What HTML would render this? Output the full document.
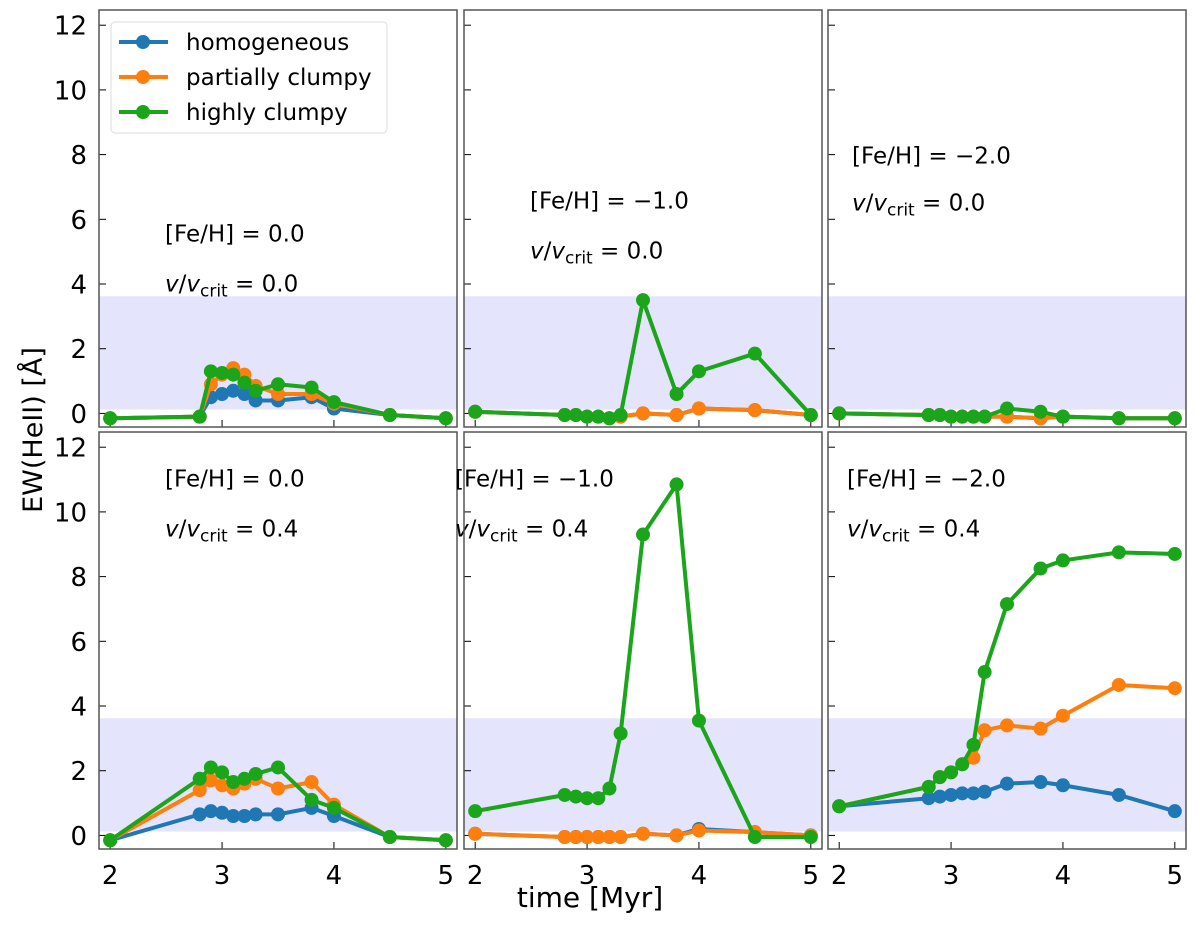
<!DOCTYPE html>
<html><head><meta charset="utf-8">
<style>
body{margin:0;background:#fff;}
svg text{font-family:"DejaVu Sans","Liberation Sans",sans-serif;fill:#000;}
</style></head>
<body>
<svg id="chart" xmlns="http://www.w3.org/2000/svg" width="1200" height="923" viewBox="0 0 1200 923">
<text x="0" y="0" font-size="27" text-anchor="middle" transform="translate(42,430) rotate(-90)">EW(HeII) [Å]</text>
<text x="590" y="907" font-size="28" text-anchor="middle">time [Myr]</text>
</svg>
<script>
const times = [2, 2.8, 2.9, 3.0, 3.1, 3.2, 3.3, 3.5, 3.8, 4.0, 4.5, 5.0];
const seriesNames = ["homogeneous", "partially clumpy", "highly clumpy"];
const xTicks = [2, 3, 4, 5];
const yTicks = [0, 2, 4, 6, 8, 10, 12];
const panelFeH = ["0.0", "\u22121.0", "\u22122.0", "0.0", "\u22121.0", "\u22122.0"];
const panelVcrit = ["0.0", "0.0", "0.0", "0.4", "0.4", "0.4"];
const p1Blue = [-0.15,-0.1,0.5,0.6,0.7,0.6,0.4,0.4,0.5,0.15,-0.05,-0.15];
const p1Orange = [-0.15,-0.1,0.9,1.2,1.4,1.2,0.85,0.6,0.6,0.3,-0.05,-0.15];
const p1Green = [-0.15,-0.1,1.3,1.25,1.2,0.95,0.7,0.9,0.8,0.35,-0.05,-0.15];
const p2Blue = [0.05,-0.05,-0.05,-0.1,-0.1,-0.15,-0.1,0.0,-0.05,0.15,0.1,-0.05];
const p2Orange = [0.05,-0.05,-0.05,-0.1,-0.1,-0.15,-0.1,0.0,-0.05,0.15,0.1,-0.05];
const p2Green = [0.05,-0.05,-0.05,-0.1,-0.1,-0.15,-0.05,3.5,0.6,1.3,1.85,-0.05];
const p3Blue = [0,-0.05,-0.05,-0.1,-0.1,-0.1,-0.1,-0.1,-0.15,-0.1,-0.15,-0.15];
const p3Orange = [0,-0.05,-0.05,-0.1,-0.1,-0.1,-0.1,-0.1,-0.15,-0.1,-0.15,-0.15];
const p3Green = [0,-0.05,-0.05,-0.1,-0.1,-0.1,-0.1,0.15,0.05,-0.1,-0.15,-0.15];
const p4Blue = [-0.15,0.65,0.75,0.7,0.6,0.6,0.65,0.65,0.85,0.6,-0.05,-0.15];
const p4Orange = [-0.15,1.4,1.7,1.55,1.45,1.6,1.75,1.45,1.65,0.95,-0.05,-0.15];
const p4Green = [-0.15,1.75,2.1,1.95,1.65,1.75,1.9,2.1,1.1,0.85,-0.05,-0.15];
const p5Blue = [0.05,-0.05,-0.05,-0.05,-0.05,-0.05,-0.05,0.05,0,0.2,0.1,0];
const p5Orange = [0.05,-0.05,-0.05,-0.05,-0.05,-0.05,-0.05,0.05,0,0.15,0.1,0];
const p5Green = [0.75,1.25,1.2,1.15,1.15,1.45,3.15,9.3,10.85,3.55,-0.05,-0.05];
const p6Blue = [0.9,1.15,1.2,1.25,1.3,1.3,1.35,1.6,1.65,1.55,1.25,0.75];
const p6Orange = [0.9,1.5,1.8,1.95,2.2,2.4,3.25,3.4,3.3,3.7,4.65,4.55];
const p6Green = [0.9,1.5,1.8,1.95,2.2,2.8,5.05,7.15,8.25,8.5,8.75,8.7];
const bandLow = 0.12, bandHigh = 3.62;

const panels = [[p1Blue,p1Orange,p1Green],[p2Blue,p2Orange,p2Green],[p3Blue,p3Orange,p3Green],
                [p4Blue,p4Orange,p4Green],[p5Blue,p5Orange,p5Green],[p6Blue,p6Orange,p6Green]];
const colors = ["#1f77b4","#ff7f0e","#1aa51a"];
const NS = "http://www.w3.org/2000/svg";
const svg = document.getElementById('chart');
const colX = [99, 464, 828], rowY = [10, 432];
const W = 358, H = 417;
const xMin = 1.90, xMax = 5.10, yMin = -0.42, yMax = 12.47;
function mk(tag, attrs, parent){const e=document.createElementNS(NS,tag);for(const k in attrs)e.setAttribute(k,attrs[k]);(parent||svg).appendChild(e);return e;}
const txtPos = [[165,233,283],[530,200,250],[852,155,202],[165,478,528],[455,478,528],[847,478,528]];

panels.forEach((ser, i) => {
  const c = i % 3, r = Math.floor(i / 3);
  const L = colX[c], T = rowY[r];
  const sx = v => L + (v - xMin) / (xMax - xMin) * W;
  const sy = v => T + H - (v - yMin) / (yMax - yMin) * H;
  const g = mk('g', {});
  
  
  const band = mk('rect', {x: L, y: sy(bandHigh), width: W, height: sy(bandLow) - sy(bandHigh), fill: '#e4e4fc'}, g);
  
  
  yTicks.forEach(t => {
    mk('line', {x1: L, x2: L + 7, y1: sy(t), y2: sy(t), stroke: '#000', 'stroke-width': 1}, g);
    if (c === 0) {
      const tl = mk('text', {x: L - 12, y: sy(t) + 9.5, 'font-size': 26, 'text-anchor': 'end'}, g);
      
      
      tl.textContent = t;
    }
  });
  xTicks.forEach(t => {
    mk('line', {x1: sx(t), x2: sx(t), y1: T + H, y2: T + H - 7, stroke: '#000', 'stroke-width': 1}, g);
    if (r === 1) {
      const tl = mk('text', {x: sx(t), y: T + H + 35, 'font-size': 26, 'text-anchor': 'middle'}, g);
      
      
      tl.textContent = t;
    }
  });
  ser.forEach((vals, s) => {
    const pts = vals.map((v, k) => sx(times[k]) + ',' + sy(v)).join(' ');
    const pl = mk('polyline', {points: pts, fill: 'none', stroke: colors[s], 'stroke-width': 4, 'stroke-linejoin': 'round'}, g);
    
    
    vals.forEach((v, k) => {
      const cc = mk('circle', {cx: sx(times[k]), cy: sy(v), r: 7, fill: colors[s]}, g);
      
      
    });
  });
  const tp = txtPos[i];
  const t1 = mk('text', {x: tp[0], y: tp[1] + 8.5, 'font-size': 23}, g);
  
  
  t1.textContent = '[Fe/H] = ' + panelFeH[i];
  const t2 = mk('text', {x: tp[0], y: tp[2] + 8.5, 'font-size': 23}, g);
  
  
  t2.innerHTML = '<tspan font-style="italic">v</tspan>/<tspan font-style="italic">v</tspan><tspan font-size="17" dy="5">crit</tspan><tspan dy="-5"> = ' + panelVcrit[i] + '</tspan>';
  const fr = mk('rect', {x: L, y: T, width: W, height: H, fill: 'none', stroke: '#555', 'stroke-width': 1.5}, g);
  
  
});

const lg = mk('g', {});


mk('rect', {x: 111, y: 22, width: 276, height: 111, rx: 4, fill: '#fff', 'fill-opacity': 0.9, stroke: '#ddd', 'stroke-width': 1}, lg);
seriesNames.forEach((n, s) => {
  const y = 42 + s * 35;
  const e = mk('g', {}, lg);
  
  
  mk('line', {x1: 119, x2: 168, y1: y, y2: y, stroke: colors[s], 'stroke-width': 4}, e);
  mk('circle', {cx: 143, cy: y, r: 7, fill: colors[s]}, e);
  const t = mk('text', {x: 186, y: y + 8, 'font-size': 23}, e);
  t.textContent = n;
});
</script>
</body></html>
